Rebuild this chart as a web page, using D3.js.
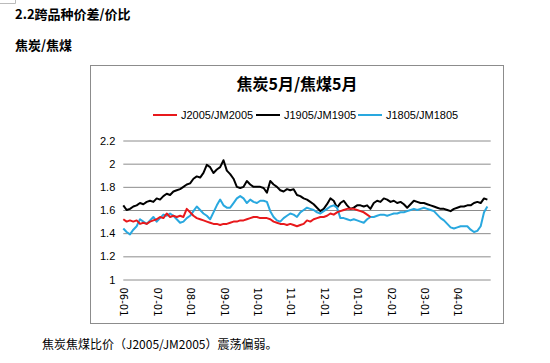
<!DOCTYPE html>
<html><head><meta charset="utf-8">
<script src="https://cdn.jsdelivr.net/npm/d3@7"></script>
<style>body{margin:0;background:#fff}svg{display:block}</style>
</head><body>
<svg id="c" width="550" height="363"></svg>
<script>
const title = "焦炭5月/焦煤5月";
const seriesNames = ["J2005/JM2005", "J1905/JM1905", "J1805/JM1805"];
const seriesColors = ["#e8191c", "#000000", "#29a8df"];
const xTickLabels = ["06-01","07-01","08-01","09-01","10-01","11-01","12-01","01-01","02-01","03-01","04-01"];
const yTicks = [1, 1.2, 1.4, 1.6, 1.8, 2, 2.2];

const j2005 = [1.52,1.50,1.51,1.50,1.51,1.48,1.49,1.48,1.50,1.51,
  1.52,1.54,1.53,1.57,1.54,1.55,1.54,1.55,1.54,1.61,
  1.58,1.55,1.53,1.52,1.51,1.50,1.49,1.48,1.48,1.47,
  1.48,1.48,1.49,1.50,1.50,1.51,1.51,1.52,1.53,1.54,
  1.54,1.53,1.53,1.53,1.52,1.50,1.49,1.48,1.48,1.47,
  1.48,1.47,1.46,1.47,1.48,1.51,1.50,1.52,1.53,1.54,
  1.54,1.55,1.57,1.56,1.58,1.59,1.60,1.61,1.61,1.61,
  1.60,1.59,1.58,1.56,1.54];
const j1905 = [1.64,1.60,1.61,1.63,1.64,1.66,1.65,1.67,1.68,1.67,
  1.70,1.69,1.72,1.74,1.73,1.76,1.77,1.78,1.80,1.82,
  1.83,1.87,1.89,1.88,1.92,1.99,1.97,1.92,1.95,1.97,
  2.03,1.94,1.91,1.87,1.80,1.79,1.80,1.85,1.82,1.80,
  1.80,1.80,1.79,1.75,1.85,1.82,1.80,1.77,1.76,1.78,
  1.77,1.78,1.73,1.72,1.70,1.69,1.67,1.65,1.62,1.59,
  1.61,1.65,1.70,1.68,1.62,1.66,1.68,1.64,1.61,1.62,
  1.64,1.64,1.63,1.64,1.61,1.66,1.68,1.67,1.70,1.69,
  1.67,1.68,1.66,1.67,1.65,1.62,1.65,1.68,1.67,1.66,
  1.66,1.65,1.64,1.63,1.62,1.61,1.61,1.60,1.59,1.61,
  1.62,1.63,1.63,1.64,1.64,1.66,1.67,1.66,1.70,1.69];
const j1805 = [1.44,1.41,1.39,1.43,1.46,1.52,1.50,1.48,1.51,1.54,
  1.50,1.53,1.56,1.55,1.57,1.55,1.52,1.49,1.50,1.53,
  1.55,1.59,1.63,1.60,1.57,1.55,1.52,1.58,1.64,1.69,
  1.64,1.62,1.62,1.66,1.70,1.72,1.70,1.66,1.69,1.67,
  1.66,1.68,1.68,1.67,1.59,1.54,1.51,1.50,1.53,1.55,
  1.57,1.56,1.54,1.58,1.60,1.62,1.61,1.60,1.58,1.57,
  1.59,1.61,1.63,1.64,1.62,1.53,1.53,1.52,1.51,1.52,
  1.51,1.50,1.49,1.52,1.54,1.54,1.55,1.56,1.56,1.55,
  1.56,1.57,1.57,1.58,1.58,1.59,1.60,1.61,1.60,1.61,
  1.62,1.61,1.60,1.59,1.56,1.53,1.51,1.48,1.45,1.44,
  1.45,1.46,1.46,1.46,1.43,1.41,1.42,1.46,1.58,1.63];
const seriesData = [j2005, j1905, j1805];

const svg = d3.select("#c");
const cjk = "'Noto Sans CJK SC', 'Noto Sans', sans-serif";

// page texts
svg.append("path").attr("d","M0,3.5H15.5V0").attr("fill","none").attr("stroke","#bbb");
svg.append("text").attr("x",15).attr("y",19).attr("font-family",cjk).attr("font-size",13)
  .attr("font-weight","bold").attr("fill","#000").text("2.2跨品种价差/价比");
svg.append("text").attr("x",15).attr("y",50).attr("font-family",cjk).attr("font-size",13)
  .attr("font-weight","bold").attr("fill","#000").text("焦炭/焦煤");
svg.append("text").attr("x",42).attr("y",349).attr("font-family",cjk).attr("font-size",12)
  .attr("fill","#000").text("焦炭焦煤比价（J2005/JM2005）震荡偏弱。");

// chart frame
svg.append("rect").attr("x",90.5).attr("y",65.5).attr("width",413).attr("height",258)
  .attr("fill","#fff").attr("stroke","#8c8c8c");

svg.append("text").attr("x",297).attr("y",90).attr("text-anchor","middle")
  .attr("font-family",cjk).attr("font-size",16).attr("font-weight","bold").text(title);

const x = d3.scaleLinear().domain([0,110]).range([123.3,490.7]);
const y = d3.scaleLinear().domain([1,2.2]).range([279.5,140.5]);

// grid
const yAxis = d3.axisLeft(y).tickValues(yTicks).tickSize(-(490.7-123.3)).tickPadding(8)
  .tickFormat(d3.format("~g"));
const gy = svg.append("g").attr("transform","translate(123.3,0)").call(yAxis);
gy.select(".domain").remove();
gy.selectAll(".tick line").attr("stroke","#8c8c8c");
gy.selectAll(".tick text").attr("font-family","'Liberation Sans', Arial, sans-serif")
  .attr("font-size",11).attr("fill","#000");

// x labels
const xTickIdx = xTickLabels.map((d,i)=>i*10);
const xAxis = d3.axisBottom(x).tickValues(xTickIdx).tickSize(0)
  .tickFormat((d,i)=>xTickLabels[i]);
const gx = svg.append("g").attr("transform","translate(0,279.5)").call(xAxis);
gx.select(".domain").remove();
gx.selectAll(".tick text").attr("font-family","'DejaVu Sans', sans-serif").attr("font-size",10)
  .attr("fill","#000").attr("text-anchor","start").attr("dy",null)
  .attr("dominant-baseline","central").attr("x",0).attr("y",0)
  .attr("transform","translate(0,8) rotate(90)");

// lines
const line = d3.line().x((d,i)=>x(i)).y(d=>y(d));
[1,2,0].forEach(k=>{
  svg.append("path").datum(seriesData[k]).attr("d",line).attr("fill","none")
    .attr("stroke",seriesColors[k]).attr("stroke-width",2).attr("stroke-linejoin","round");
});

// legend
const legX = [153, 256, 358];
seriesNames.forEach((n,k)=>{
  const g = svg.append("g").attr("transform",`translate(${legX[k]},115)`);
  g.append("line").attr("x1",0).attr("x2",24).attr("y1",0).attr("y2",0)
    .attr("stroke",seriesColors[k]).attr("stroke-width",2);
  g.append("text").attr("x",28).attr("y",0).attr("dominant-baseline","central")
    .attr("font-family","'Liberation Sans', Arial, sans-serif").attr("font-size",11).text(n);
});
</script>
</body></html>
